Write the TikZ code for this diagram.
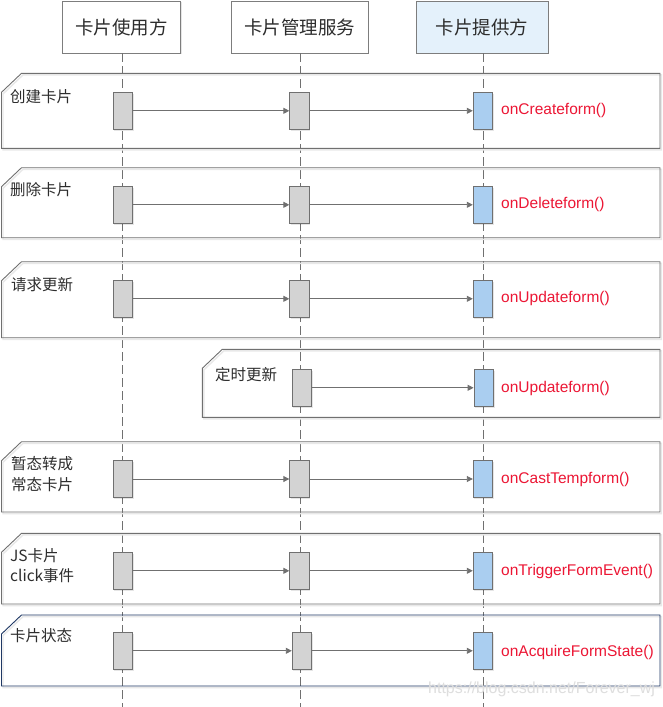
\documentclass[tikz,border=0pt]{standalone}
\usepackage{fontspec}
\setmainfont{Liberation Sans}
\newfontfamily\cjk{Noto Sans CJK SC}
\usetikzlibrary{arrows.meta,shadows}
\definecolor{linegray}{RGB}{112,112,112}
\definecolor{headgray}{RGB}{125,125,125}
\definecolor{actgray}{RGB}{211,211,211}
\definecolor{actblue}{RGB}{170,206,240}
\definecolor{headblue}{RGB}{228,241,251}
\definecolor{textdark}{RGB}{45,45,45}
\definecolor{methred}{RGB}{236,22,52}
\definecolor{navy}{RGB}{31,56,100}
\definecolor{wmgray}{RGB}{222,222,222}
\newcommand\cardframe[5]{%
  \draw[black!9,line width=1.4pt,shift={(1.5,1.6)}] (#1+20,#2) -- (#3,#2) -- (#3,#4) -- (#1,#4) -- (#1,#2+19) -- cycle;
  \draw[#5] (#1+20,#2) -- (#3,#2) -- (#3,#4) -- (#1,#4) -- (#1,#2+19) -- cycle;}
\begin{document}
\begin{tikzpicture}[x=1pt,y=-1pt,
  head/.style={draw=headgray,fill=white,line width=0.9pt,minimum width=118pt,minimum height=52pt,inner sep=0pt,
    font=\cjk\fontsize{18.5}{22}\selectfont,text=textdark,
    drop shadow={shadow xshift=1.2pt,shadow yshift=-1.2pt,fill=black,opacity=0.10}},
  lifeline/.style={draw=linegray,line width=0.9pt,dash pattern=on 9pt off 4pt},
  frameline/.style={draw=linegray,line width=0.9pt},
  navyframe/.style={draw=navy,line width=0.9pt},
  act/.style={draw=linegray,fill=actgray,line width=0.9pt,minimum width=19.5pt,minimum height=37pt,inner sep=0pt,
    drop shadow={shadow xshift=1.2pt,shadow yshift=-1.2pt,fill=black,opacity=0.10}},
  actb/.style={act,fill=actblue},
  msg/.style={draw=linegray,line width=0.9pt,-{Triangle[length=6pt,width=6pt]}},
  lbl/.style={anchor=west,inner sep=0pt,text=textdark,font=\cjk\fontsize{15.5}{18}\selectfont},
  meth/.style={anchor=west,inner sep=0pt,text=methred,font=\fontsize{15.5}{18}\selectfont},
  ]
\useasboundingbox[fill=white] (0,0) rectangle (662,707);
% headers
\node[head] (h1) at (121.5,27) {卡片使用方};
\node[head,minimum width=137pt] (h2) at (299.5,27) {卡片管理服务};
\node[head,fill=headblue,minimum width=132pt] (h3) at (482,27) {卡片提供方};
\coordinate (b1) at (122,707);
\coordinate (b2) at (300,707);
\coordinate (b3) at (483,707);
\draw[lifeline] (h1.south -| b1) -- (b1);
\draw[lifeline] (h2.south -| b2) -- (b2);
\draw[lifeline] (h3.south -| b3) -- (b3);
% frames
\cardframe{1.5}{73.3}{660}{148.3}{frameline}
\cardframe{1.5}{167.7}{660}{237.7}{frameline}
\cardframe{1.5}{261.7}{660}{337.7}{frameline}
\cardframe{202.3}{349.3}{660}{417.3}{frameline}
\cardframe{1.5}{441.7}{660}{512}{frameline}
\cardframe{1.5}{533.3}{660}{604}{frameline}
\cardframe{1.5}{615}{660}{686}{navyframe}
% row 1
\node[act] (u1) at (123,110.8) {};
\node[act] (m1) at (299.5,110.8) {};
\node[actb] (p1) at (483,110.8) {};
\draw[msg] (u1) -- (m1);
\draw[msg] (m1) -- (p1);
\node[lbl] (l1) at (10,97) {创建卡片};
\node[meth] (f1) at (501,110.5) {onCreateform()};
% row 2
\node[act] (u2) at (123,204.8) {};
\node[act] (m2) at (299.5,204.8) {};
\node[actb] (p2) at (483,204.8) {};
\draw[msg] (u2) -- (m2);
\draw[msg] (m2) -- (p2);
\node[lbl] (l2) at (10,189.3) {删除卡片};
\node[meth] (f2) at (501,204) {onDeleteform()};
% row 3
\node[act] (u3) at (123,298.8) {};
\node[act] (m3) at (299.5,298.8) {};
\node[actb] (p3) at (483,298.8) {};
\draw[msg] (u3) -- (m3);
\draw[msg] (m3) -- (p3);
\node[lbl] (l3) at (11,285) {请求更新};
\node[meth] (f3) at (501,298.3) {onUpdateform()};
% row 4
\node[act] (m4) at (302,387.8) {};
\node[actb] (p4) at (483.8,387.8) {};
\draw[msg] (m4) -- (p4);
\node[lbl] (l4) at (215,374.7) {定时更新};
\node[meth] (f4) at (501,388.2) {onUpdateform()};
% row 5
\node[act] (u5) at (123,479) {};
\node[act] (m5) at (299.5,479) {};
\node[actb] (p5) at (483,479) {};
\draw[msg] (u5) -- (m5);
\draw[msg] (m5) -- (p5);
\node[lbl] (l5a) at (11,463.3) {暂态转成};
\node[lbl] (l5b) at (11,485) {常态卡片};
\node[meth] (f5) at (501,479) {onCastTempform()};
% row 6
\node[act] (u6) at (123,570.8) {};
\node[act] (m6) at (299.5,570.8) {};
\node[actb] (p6) at (483,570.8) {};
\draw[msg] (u6) -- (m6);
\draw[msg] (m6) -- (p6);
\node[lbl] (l6a) at (10,556) {JS卡片};
\node[lbl] (l6b) at (10,575.7) {click事件};
\node[meth] (f6) at (501,571) {onTriggerFormEvent()};
% row 7
\node[act] (u7) at (123,650.8) {};
\node[act] (m7) at (302,650.8) {};
\node[actb] (p7) at (483,650.8) {};
\draw[msg] (u7) -- (m7);
\draw[msg] (m7) -- (p7);
\node[lbl] (l7) at (10,636) {卡片状态};
\node[meth] (f7) at (501,652) {onAcquireFormState()};
% watermark
\node[anchor=west,inner sep=0pt,text=wmgray,font=\fontsize{16}{18}\selectfont] (wm) at (428,689) {https://blog.csdn.net/Forever\_wj};
\end{tikzpicture}
\end{document}
